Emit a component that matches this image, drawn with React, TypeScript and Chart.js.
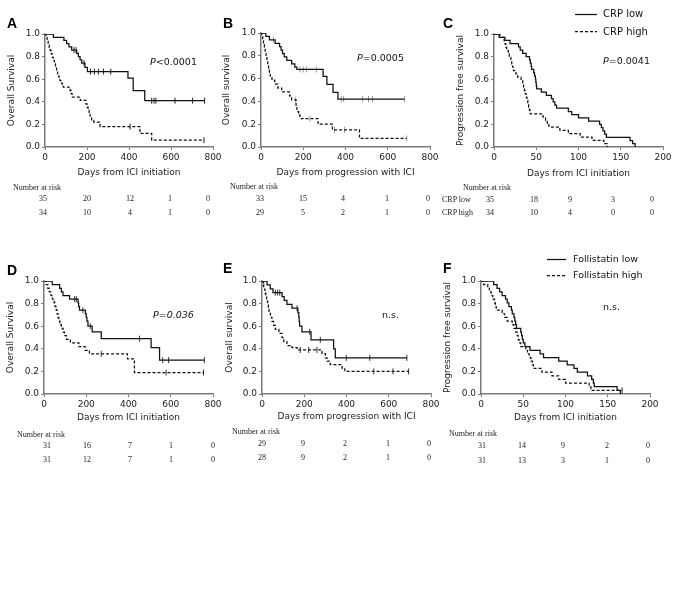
import React, { useEffect, useRef } from "react";
import { Chart, registerables } from "chart.js";

Chart.register(...registerables);

// ---------------- DATA ----------------
const xTicksDays = [0, 200, 400, 600, 800];
const xTicksPFS = [0, 50, 100, 150, 200];
const yTickValues = [0, 0.2, 0.4, 0.6, 0.8, 1.0];

const groupsCRP = ["CRP low", "CRP high"];
const groupsFST = ["Follistatin low", "Follistatin high"];

// Panel A – OS from ICI initiation, CRP
const aLowT = [0, 40, 90, 103, 114, 127, 151, 159, 167, 175, 190, 202, 395, 420, 475, 760];
const aLowS = [1, 0.971, 0.943, 0.914, 0.886, 0.857, 0.829, 0.8, 0.771, 0.743, 0.705, 0.667, 0.61, 0.5, 0.41, 0.41];
const aLowCens = [138, 148, 186, 217, 235, 254, 278, 313, 508, 519, 528, 619, 703, 760];
const aHighT = [0, 5, 10, 15, 20, 25, 30, 35, 40, 45, 50, 55, 60, 66, 71, 80, 87, 120, 125, 130, 168, 195, 200, 205, 210, 215, 222, 232, 262, 452, 508, 757];
const aHighS = [1, 0.971, 0.941, 0.912, 0.882, 0.853, 0.824, 0.794, 0.765, 0.735, 0.706, 0.676, 0.647, 0.618, 0.588, 0.559, 0.529, 0.5, 0.471, 0.441, 0.412, 0.382, 0.353, 0.324, 0.294, 0.265, 0.235, 0.22, 0.18, 0.12, 0.06, 0.06];
const aHighCens = [405, 757];

// Panel B – OS from progression, CRP
const bLowT = [0, 23, 40, 67, 88, 95, 102, 110, 122, 145, 160, 170, 294, 312, 341, 364, 680];
const bLowS = [1, 0.97, 0.94, 0.91, 0.88, 0.85, 0.82, 0.79, 0.76, 0.73, 0.7, 0.68, 0.62, 0.55, 0.48, 0.42, 0.42];
const bLowCens = [59, 184, 200, 216, 263, 380, 391, 481, 509, 528, 680];
const bHighT = [0, 4, 8, 12, 16, 20, 24, 28, 32, 36, 40, 44, 52, 65, 80, 98, 135, 145, 166, 170, 178, 185, 270, 338, 466, 690];
const bHighS = [1, 0.966, 0.931, 0.897, 0.862, 0.828, 0.793, 0.759, 0.724, 0.69, 0.655, 0.621, 0.586, 0.552, 0.517, 0.483, 0.448, 0.414, 0.36, 0.31, 0.28, 0.25, 0.2, 0.15, 0.075, 0.075];
const bHighCens = [164, 231, 348, 395, 690];

// Panel C – PFS, CRP
const cLowT = [0, 6, 13, 19, 29, 31, 34, 38, 42, 43, 44, 44.5, 47, 48, 49, 49.5, 50, 50.5, 56, 62, 68, 70, 72, 74, 88, 92, 100, 112, 125, 127, 129, 131, 133, 161, 164, 167];
const cLowS = [1, 0.971, 0.943, 0.914, 0.886, 0.857, 0.829, 0.8, 0.771, 0.743, 0.714, 0.686, 0.657, 0.629, 0.6, 0.571, 0.543, 0.514, 0.486, 0.457, 0.429, 0.4, 0.371, 0.343, 0.314, 0.286, 0.257, 0.229, 0.2, 0.171, 0.143, 0.114, 0.086, 0.057, 0.029, 0];
const cLowCens: number[] = [];
const cHighT = [0, 7, 12, 13, 14, 15, 17, 18, 20, 21, 22, 23, 26, 28, 32, 34, 35, 36, 37, 38, 39, 40, 41, 42, 43, 58, 61, 63, 65, 78, 88, 102, 116, 130, 134];
const cHighS = [1, 0.971, 0.941, 0.912, 0.882, 0.853, 0.824, 0.794, 0.765, 0.735, 0.706, 0.676, 0.647, 0.618, 0.588, 0.559, 0.529, 0.5, 0.471, 0.441, 0.412, 0.382, 0.353, 0.324, 0.294, 0.265, 0.235, 0.206, 0.176, 0.147, 0.118, 0.088, 0.059, 0.029, 0];
const cHighCens: number[] = [];

// Panel D – OS from ICI initiation, Follistatin
const dLowT = [0, 39, 74, 82, 90, 121, 161, 164, 168, 196, 200, 203, 208, 228, 271, 507, 547, 759];
const dLowS = [1, 0.968, 0.935, 0.903, 0.871, 0.839, 0.806, 0.774, 0.742, 0.71, 0.677, 0.645, 0.6, 0.55, 0.49, 0.41, 0.3, 0.3];
const dLowCens = [145, 153, 184, 219, 452, 562, 590, 759];
const dHighT = [0, 10, 18, 25, 33, 40, 48, 52, 58, 62, 66, 70, 75, 82, 90, 97, 106, 125, 165, 195, 215, 395, 428, 755];
const dHighS = [1, 0.968, 0.935, 0.903, 0.871, 0.839, 0.806, 0.774, 0.742, 0.71, 0.677, 0.645, 0.613, 0.581, 0.548, 0.516, 0.484, 0.452, 0.419, 0.387, 0.355, 0.31, 0.19, 0.19];
const dHighCens = [271, 578, 755];

// Panel E – OS from progression, Follistatin
const eLowT = [0, 24, 39, 52, 95, 105, 118, 142, 170, 174, 176, 178, 189, 232, 339, 347, 686];
const eLowS = [1, 0.966, 0.931, 0.897, 0.862, 0.828, 0.793, 0.759, 0.72, 0.68, 0.64, 0.6, 0.55, 0.48, 0.4, 0.32, 0.32];
const eLowCens = [8, 63, 74, 84, 166, 226, 276, 399, 510, 686];
const eHighT = [0, 5, 8, 14, 18, 22, 27, 30, 33, 40, 47, 55, 63, 80, 95, 103, 118, 142, 166, 284, 300, 308, 323, 379, 392, 694];
const eHighS = [1, 0.964, 0.929, 0.893, 0.857, 0.821, 0.786, 0.75, 0.714, 0.679, 0.643, 0.607, 0.571, 0.536, 0.5, 0.464, 0.429, 0.41, 0.39, 0.357, 0.32, 0.29, 0.26, 0.23, 0.2, 0.2];
const eHighCens = [181, 221, 260, 529, 620, 694];

// Panel F – PFS, Follistatin
const fLowT = [0, 15, 19, 22, 25, 29, 31, 33, 36, 37, 39, 40, 41, 42, 47, 48, 49, 50, 52, 58, 70, 74, 92, 102, 110, 114, 126, 131, 133, 134, 161, 165];
const fLowS = [1, 0.968, 0.935, 0.903, 0.871, 0.839, 0.806, 0.774, 0.742, 0.71, 0.677, 0.645, 0.613, 0.58, 0.548, 0.516, 0.484, 0.452, 0.419, 0.387, 0.355, 0.323, 0.29, 0.258, 0.226, 0.194, 0.161, 0.129, 0.097, 0.065, 0.032, 0];
const fLowCens: number[] = [];
const fHighT = [0, 3, 8, 10, 12, 14, 16, 17, 18, 25, 28, 31, 37, 39, 41, 43, 44, 45, 47, 53, 55, 57, 59, 61, 62, 72, 84, 92, 100, 128, 130, 167];
const fHighS = [1, 0.968, 0.935, 0.903, 0.871, 0.839, 0.806, 0.774, 0.742, 0.71, 0.677, 0.645, 0.613, 0.581, 0.548, 0.516, 0.484, 0.452, 0.419, 0.387, 0.355, 0.323, 0.29, 0.258, 0.226, 0.194, 0.161, 0.129, 0.097, 0.065, 0.032, 0.032];
const fHighCens = [167];

// Numbers at risk
const riskALow = [35, 20, 12, 1, 0];
const riskAHigh = [34, 10, 4, 1, 0];
const riskBLow = [33, 15, 4, 1, 0];
const riskBHigh = [29, 5, 2, 1, 0];
const riskCLow = [35, 18, 9, 3, 0];
const riskCHigh = [34, 10, 4, 0, 0];
const riskDLow = [31, 16, 7, 1, 0];
const riskDHigh = [31, 12, 7, 1, 0];
const riskELow = [29, 9, 2, 1, 0];
const riskEHigh = [28, 9, 2, 1, 0];
const riskFLow = [31, 14, 9, 2, 0];
const riskFHigh = [31, 13, 3, 1, 0];

// ---------------- STYLE / LAYOUT ----------------
const SANS = '"DejaVu Sans", Verdana, sans-serif';
const SERIF = '"Liberation Serif", "Times New Roman", serif';
const BOLD = '"Liberation Sans", Arial, sans-serif';
const AXIS = "#7a7a7a";
const TEXT = "#222";

type Curve = { t: number[]; s: number[]; c: number[] };
type PanelSpec = {
  left: number; top: number; w: number; h: number;
  yW: number; xH: number; padTop: number; padRight: number;
  yTitlePad: number; xTitlePad: number;
  xMax: number; xTicks: number[]; xTitle: string; yTitle: string;
  low: Curve; high: Curve; names: string[]; censorColor: string;
};

const X_ICI = "Days from ICI initiation";
const X_PROG = "Days from progression with ICI";

const PANELS: PanelSpec[] = [
  { left: 0, top: 24, w: 225, h: 156, yW: 45, xH: 33, padTop: 10, padRight: 12, yTitlePad: 5.8, xTitlePad: 1.6,
    xMax: 800, xTicks: xTicksDays, xTitle: X_ICI, yTitle: "Overall Survival",
    low: { t: aLowT, s: aLowS, c: aLowCens }, high: { t: aHighT, s: aHighS, c: aHighCens }, names: groupsCRP, censorColor: "#222" },
  { left: 220, top: 24, w: 222, h: 156, yW: 41, xH: 33, padTop: 9, padRight: 12, yTitlePad: 1.2, xTitlePad: 1.6,
    xMax: 800, xTicks: xTicksDays, xTitle: X_PROG, yTitle: "Overall survival",
    low: { t: bLowT, s: bLowS, c: bLowCens }, high: { t: bHighT, s: bHighS, c: bHighCens }, names: groupsCRP, censorColor: "#999" },
  { left: 440, top: 24, w: 235, h: 156, yW: 54, xH: 33, padTop: 10, padRight: 12, yTitlePad: 15.1, xTitlePad: 1.4,
    xMax: 200, xTicks: xTicksPFS, xTitle: X_ICI, yTitle: "Progression free survival",
    low: { t: cLowT, s: cLowS, c: cLowCens }, high: { t: cHighT, s: cHighS, c: cHighCens }, names: groupsCRP, censorColor: "#222" },
  { left: 0, top: 270, w: 225, h: 156, yW: 44, xH: 32, padTop: 11, padRight: 12, yTitlePad: 5.6, xTitlePad: 2.9,
    xMax: 800, xTicks: xTicksDays, xTitle: X_ICI, yTitle: "Overall Survival",
    low: { t: dLowT, s: dLowS, c: dLowCens }, high: { t: dHighT, s: dHighS, c: dHighCens }, names: groupsFST, censorColor: "#333" },
  { left: 220, top: 270, w: 223, h: 156, yW: 42, xH: 32, padTop: 11, padRight: 12, yTitlePad: 4.6, xTitlePad: 3.9,
    xMax: 800, xTicks: xTicksDays, xTitle: X_PROG, yTitle: "Overall survival",
    low: { t: eLowT, s: eLowS, c: eLowCens }, high: { t: eHighT, s: eHighS, c: eHighCens }, names: groupsFST, censorColor: "#333" },
  { left: 440, top: 270, w: 222, h: 156, yW: 41, xH: 32, padTop: 11, padRight: 12, yTitlePad: 2.1, xTitlePad: 2.9,
    xMax: 200, xTicks: xTicksPFS, xTitle: X_ICI, yTitle: "Progression free survival",
    low: { t: fLowT, s: fLowS, c: fLowCens }, high: { t: fHighT, s: fHighS, c: fHighCens }, names: groupsFST, censorColor: "#333" },
];

type RiskSpec = { headX: number; headY: number; cols: number[]; rowY: number[]; rows: number[][]; labels?: string[]; labelX?: number };
const RISK: RiskSpec[] = [
  { headX: 13, headY: 188, cols: [43, 87, 130, 170, 208], rowY: [199, 213], rows: [riskALow, riskAHigh] },
  { headX: 230, headY: 187, cols: [260, 303, 343, 387, 428], rowY: [199, 213], rows: [riskBLow, riskBHigh] },
  { headX: 463, headY: 188, cols: [490, 534, 570, 613, 652], rowY: [200, 213], rows: [riskCLow, riskCHigh], labels: groupsCRP, labelX: 442 },
  { headX: 17, headY: 434.5, cols: [47, 87, 130, 171, 213], rowY: [446, 460], rows: [riskDLow, riskDHigh] },
  { headX: 232, headY: 432, cols: [262, 303, 345, 388, 429], rowY: [444, 458], rows: [riskELow, riskEHigh] },
  { headX: 449, headY: 434, cols: [482, 522, 563, 607, 648], rowY: [446, 461], rows: [riskFLow, riskFHigh] },
];

function levelAt(t: number[], s: number[], x: number): number {
  let v = s[0];
  for (let i = 0; i < t.length; i++) if (t[i] <= x) v = s[i];
  return v;
}

function KMChart({ spec }: { spec: PanelSpec }) {
  const ref = useRef<HTMLCanvasElement>(null);
  useEffect(() => {
    if (!ref.current) return;
    const tickFont = { family: SANS, size: 9 };
    const line = (c: Curve, dashed: boolean, label: string) => ({
      label,
      data: c.t.map((x, i) => ({ x, y: c.s[i] })),
      stepped: "before" as const,
      borderColor: "#111",
      borderWidth: 1.25,
      borderDash: dashed ? [3, 2] : [],
      pointRadius: 0,
      fill: false,
      tension: 0,
    });
    const cens = (c: Curve, label: string) => ({
      label,
      data: c.c.map((x) => ({ x, y: levelAt(c.t, c.s, x) })),
      showLine: false,
      pointStyle: "line" as const,
      rotation: 90,
      pointRadius: 3,
      pointBorderWidth: 1,
      pointBorderColor: spec.censorColor,
      borderColor: spec.censorColor,
      backgroundColor: spec.censorColor,
    });
    const chart = new Chart(ref.current, {
      type: "line",
      data: {
        datasets: [
          line(spec.low, false, spec.names[0]),
          line(spec.high, true, spec.names[1]),
          cens(spec.low, spec.names[0] + " censored"),
          cens(spec.high, spec.names[1] + " censored"),
        ] as any,
      },
      options: {
        responsive: false,
        animation: false,
        devicePixelRatio: 1,
        events: [],
        layout: { padding: { left: 0, top: spec.padTop, right: spec.padRight, bottom: 0 } },
        plugins: { legend: { display: false }, tooltip: { enabled: false } },
        scales: {
          x: {
            type: "linear",
            min: 0,
            max: spec.xMax,
            afterBuildTicks: (sc: any) => { sc.ticks = spec.xTicks.map((v) => ({ value: v })); },
            afterFit: (sc: any) => { sc.height = spec.xH; },
            ticks: { color: TEXT, font: tickFont, padding: 2, maxRotation: 0, autoSkip: false,
              callback: (v: any) => String(v) },
            grid: { drawOnChartArea: false, drawTicks: true, tickLength: 3, color: AXIS, lineWidth: 1 },
            border: { display: true, color: AXIS, width: 1.5 },
            title: { display: true, text: spec.xTitle, color: TEXT, font: { family: SANS, size: 9 },
              padding: { top: 0, bottom: spec.xTitlePad } },
          },
          y: {
            type: "linear",
            min: 0,
            max: 1,
            afterBuildTicks: (sc: any) => { sc.ticks = yTickValues.map((v) => ({ value: v })); },
            afterFit: (sc: any) => { sc.width = spec.yW; },
            ticks: { color: TEXT, font: tickFont, padding: 2, callback: (v: any) => Number(v).toFixed(1) },
            grid: { drawOnChartArea: false, drawTicks: true, tickLength: 3, color: AXIS, lineWidth: 1 },
            border: { display: true, color: AXIS, width: 1.5 },
            title: { display: true, text: spec.yTitle, color: TEXT, font: { family: SANS, size: 9 },
              padding: { top: spec.yTitlePad, bottom: 0 } },
          },
        },
      } as any,
    });
    return () => chart.destroy();
  }, [spec]);
  return (
    <canvas
      ref={ref}
      width={spec.w}
      height={spec.h}
      style={{ position: "absolute", left: spec.left, top: spec.top, width: spec.w, height: spec.h }}
    />
  );
}

function Txt(props: { x: number; y: number; align?: "left" | "center" | "right"; style?: React.CSSProperties; children: React.ReactNode }) {
  const { x, y, align = "left", style, children } = props;
  const tx = align === "center" ? "-50%" : align === "right" ? "-100%" : "0";
  return (
    <span
      style={{
        position: "absolute", left: x, top: y, transform: `translate(${tx}, -50%)`,
        lineHeight: 1, whiteSpace: "nowrap", color: TEXT, ...style,
      }}
    >
      {children}
    </span>
  );
}

const riskFont: React.CSSProperties = { fontFamily: SERIF, fontSize: 8, color: "#222" };
const pFont: React.CSSProperties = { fontFamily: SANS, fontSize: 9.5, color: "#111" };
const letterFont: React.CSSProperties = { fontFamily: BOLD, fontSize: 14, fontWeight: 700, color: "#000" };

export default function App() {
  return (
    <div style={{ position: "fixed", left: 0, top: 0, width: 681, height: 608, background: "#fff", overflow: "hidden" }}>
      {PANELS.map((p, i) => (
        <KMChart key={i} spec={p} />
      ))}

      {/* panel letters */}
      <Txt x={7} y={23} style={letterFont}>A</Txt>
      <Txt x={223} y={23} style={letterFont}>B</Txt>
      <Txt x={443} y={23} style={letterFont}>C</Txt>
      <Txt x={7} y={270} style={letterFont}>D</Txt>
      <Txt x={223} y={268} style={letterFont}>E</Txt>
      <Txt x={443} y={268} style={letterFont}>F</Txt>

      {/* p-values */}
      <Txt x={150} y={62} style={pFont}><i>P</i>&lt;0.0001</Txt>
      <Txt x={357} y={58} style={pFont}><i>P</i>=0.0005</Txt>
      <Txt x={603} y={61} style={pFont}><i>P</i>=0.0041</Txt>
      <Txt x={153} y={315} style={pFont}><i>P=0.036</i></Txt>
      <Txt x={382} y={315} style={pFont}>n.s.</Txt>
      <Txt x={603} y={307} style={pFont}>n.s.</Txt>

      {/* legends */}
      <svg width={681} height={608} style={{ position: "absolute", left: 0, top: 0, pointerEvents: "none" }}>
        <line x1={575} x2={597} y1={14.5} y2={14.5} stroke="#111" strokeWidth={1.25} />
        <line x1={575} x2={597} y1={31.5} y2={31.5} stroke="#111" strokeWidth={1.25} strokeDasharray="3 2" />
        <line x1={547} x2={566} y1={259.5} y2={259.5} stroke="#111" strokeWidth={1.25} />
        <line x1={547} x2={566} y1={275.5} y2={275.5} stroke="#111" strokeWidth={1.25} strokeDasharray="3 2" />
      </svg>
      <Txt x={603} y={14} style={{ fontFamily: SANS, fontSize: 10, color: "#111" }}>{groupsCRP[0]}</Txt>
      <Txt x={603} y={31.5} style={{ fontFamily: SANS, fontSize: 10, color: "#111" }}>{groupsCRP[1]}</Txt>
      <Txt x={573} y={259} style={{ fontFamily: SANS, fontSize: 9.5, color: "#111" }}>{groupsFST[0]}</Txt>
      <Txt x={573} y={275} style={{ fontFamily: SANS, fontSize: 9.5, color: "#111" }}>{groupsFST[1]}</Txt>

      {/* numbers at risk */}
      {RISK.map((r, ri) => (
        <React.Fragment key={ri}>
          <Txt x={r.headX} y={r.headY} style={riskFont}>Number at risk</Txt>
          {r.labels && r.labels.map((lb, li) => (
            <Txt key={"l" + li} x={r.labelX as number} y={r.rowY[li]} style={riskFont}>{lb}</Txt>
          ))}
          {r.rows.map((row, rowI) =>
            row.map((n, ci) => (
              <Txt key={rowI + "-" + ci} x={r.cols[ci]} y={r.rowY[rowI]} align="center" style={riskFont}>{n}</Txt>
            ))
          )}
        </React.Fragment>
      ))}
    </div>
  );
}
